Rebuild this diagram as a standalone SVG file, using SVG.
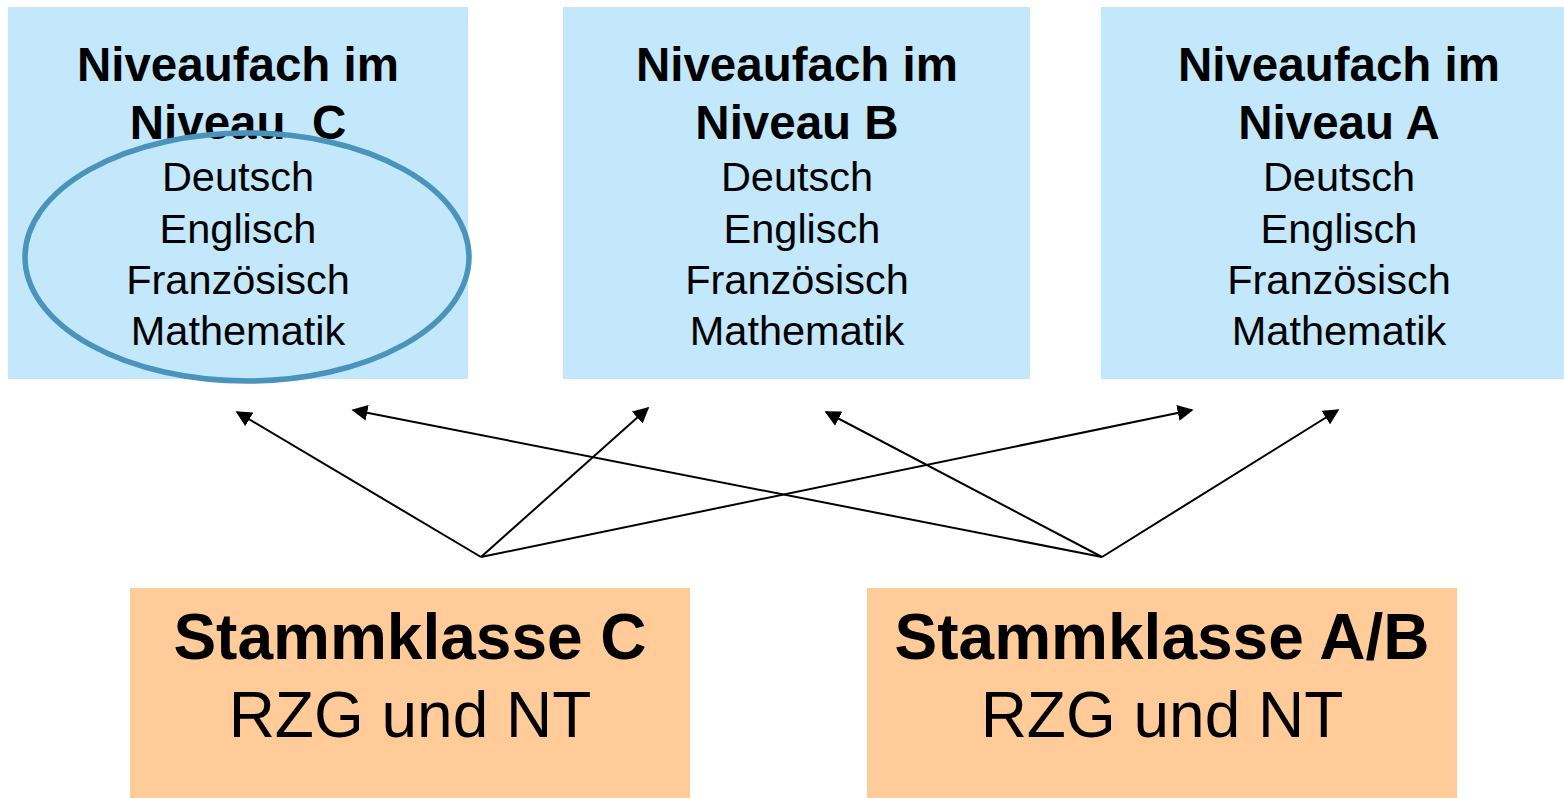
<svg xmlns="http://www.w3.org/2000/svg" width="1564" height="798" viewBox="0 0 1564 798">
<style>
.blue{fill:#c3e8fc}
.orange{fill:#ffcb98}
.t{font-family:"Liberation Sans",Arial,sans-serif;text-anchor:middle;fill:#000}
.h{font-size:47.5px;font-weight:bold}
.s{font-size:41.5px}
.big{font-size:64px}
.bb{font-weight:bold}
.c{stroke:#000;stroke-width:2;fill:none;marker-end:url(#ah)}
</style>
<defs>
<marker id="ah" viewBox="0 0 10 10" refX="9" refY="5" markerWidth="8" markerHeight="8" markerUnits="strokeWidth" orient="auto">
<path d="M0,0 L10,5 L0,10 z" fill="#000"/>
</marker>
</defs>
<rect width="1564" height="798" fill="#fff"/>
<g id="nodeC">
<rect class="blue" x="8" y="7" width="460" height="372"/>
<text class="t h" x="238" y="81">Niveaufach im</text>
<text class="t h" x="238" y="139" xml:space="preserve">Niveau  C</text>
<text class="t s" x="238" y="191">Deutsch</text>
<text class="t s" x="238" y="243">Englisch</text>
<text class="t s" x="238" y="294">Französisch</text>
<text class="t s" x="238" y="345">Mathematik</text>
<ellipse cx="247" cy="257" rx="222" ry="124" fill="none" stroke="#4a93bb" stroke-width="5.5"/>
</g>
<g id="nodeB">
<rect class="blue" x="563" y="7" width="467" height="372"/>
<text class="t h" x="797" y="81">Niveaufach im</text>
<text class="t h" x="797" y="139">Niveau B</text>
<text class="t s" x="797" y="191">Deutsch</text>
<text class="t s" x="802" y="243">Englisch</text>
<text class="t s" x="797" y="294">Französisch</text>
<text class="t s" x="797" y="345">Mathematik</text>
</g>
<g id="nodeA">
<rect class="blue" x="1101" y="7" width="463" height="372"/>
<text class="t h" x="1339" y="81">Niveaufach im</text>
<text class="t h" x="1339" y="139">Niveau A</text>
<text class="t s" x="1339" y="191">Deutsch</text>
<text class="t s" x="1339" y="243">Englisch</text>
<text class="t s" x="1339" y="294">Französisch</text>
<text class="t s" x="1339" y="345">Mathematik</text>
</g>
<g id="stammC">
<rect class="orange" x="130" y="588" width="560" height="210"/>
<text class="t big bb" x="410" y="659">Stammklasse C</text>
<text class="t big" x="410" y="737">RZG und NT</text>
</g>
<g id="stammAB">
<rect class="orange" x="867" y="588" width="590" height="210"/>
<text class="t big bb" x="1162" y="659">Stammklasse A/B</text>
<text class="t big" x="1162" y="737">RZG und NT</text>
</g>
<g id="connectors">
<line class="c" x1="481" y1="557" x2="237" y2="412"/>
<line class="c" x1="481" y1="557" x2="648" y2="408"/>
<line class="c" x1="481" y1="557" x2="1192" y2="410"/>
<line class="c" x1="1102" y1="557" x2="353" y2="410"/>
<line class="c" x1="1102" y1="557" x2="826" y2="412"/>
<line class="c" x1="1102" y1="557" x2="1338" y2="410"/>
</g>
</svg>
